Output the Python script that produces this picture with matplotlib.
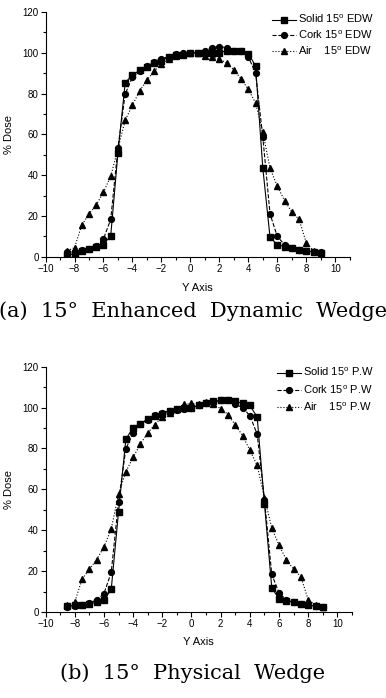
import numpy as np
import matplotlib.pyplot as plt
from matplotlib.ticker import MultipleLocator

# y positions (cm), same grid for every series
y_pos = np.arange(-8.5, 9.01, 0.5)

# (a) 15 deg enhanced dynamic wedge
edw_solid = [1, 1.5, 3, 4, 5, 6, 10.4, 51, 85.4, 89, 91.4, 93, 95, 96, 98, 99, 99, 100,
             100, 100, 100, 100, 101, 101, 101, 99.6, 93.5, 43.5, 9.5, 6, 5, 4.5, 3.5, 3, 2.5, 2]
edw_cork = [2.5, 2.5, 3.5, 4, 5.5, 8.8, 18.4, 53.5, 79.8, 88, 91, 93.5, 95.5, 97, 98, 99.5, 100, 100,
            100, 101, 102.5, 103, 102.5, 101, 101, 98, 90, 58.6, 21, 10, 6, 4.5, 3.5, 3, 2.5, 2.5]
edw_air = [3, 4.5, 15.5, 21, 25.5, 31.7, 39.5, 53, 67, 74.3, 81.3, 86.5, 91, 94.5, 97, 98.5, 100, 100,
           100, 98.5, 98, 96.8, 95, 91.6, 87.2, 82, 75.4, 61, 43.4, 34.6, 27.6, 22, 18.4, 7, 3, 2.5]

# (b) 15 deg physical wedge
pw_solid = [3, 3.5, 3.5, 4, 5, 5.9, 11.2, 48.9, 84.5, 90.2, 92, 94.5, 96, 97, 98.5, 99.5, 100, 100,
            101, 102, 103, 103.5, 103.5, 103, 102, 101, 95.4, 53, 12, 6.5, 5.5, 5, 4, 3.5, 3, 2.5]
pw_cork = [2.5, 3, 3.5, 4.5, 6, 9.1, 19.5, 54, 79.8, 87.5, 92, 94, 96.5, 97.5, 98.5, 99, 99.5, 100,
           101, 102, 102.5, 103.5, 103.5, 101.5, 100, 96, 87, 55, 18.5, 9.5, 6, 5, 4, 3.5, 3, 2.5]
pw_air = [3.5, 5, 16.1, 21, 25.7, 31.9, 40.7, 57.8, 68.6, 75.7, 82.2, 87.6, 91.7, 95.5, 97.5, 99.5, 101.5, 102,
          101.5, 102.5, 101.5, 99.5, 96.6, 91.5, 86.3, 79.2, 71.7, 56, 41.2, 32.7, 25.6, 21, 17.4, 6, 3.5, 2.5]

plt.rcParams['font.family'] = ['Liberation Sans', 'DejaVu Sans']
plt.rcParams['mathtext.fontset'] = 'custom'
plt.rcParams['mathtext.rm'] = 'Liberation Sans'

W, H = 386, 698
fig = plt.figure(figsize=(W / 100, H / 100), dpi=100)


def panel(rect, solid, cork, air, tag, leg_xy, leg_sp, caption, cap_y, xlab_y):
    ax = fig.add_axes(rect)
    kw = dict(color='black', lw=0.8, ms=4.2)
    ax.plot(y_pos, solid, '-', marker='s', label='Solid 15$^{\\mathrm{o}}$ ' + tag, **kw)
    ax.plot(y_pos, cork, '--', marker='o', label='Cork 15$^{\\mathrm{o}}$ ' + tag, **kw)
    ax.plot(y_pos, air, ':', marker='^', label='Air    15$^{\\mathrm{o}}$ ' + tag, **kw)
    ax.set_xlim(-10, 11)
    ax.set_ylim(0, 120)
    ax.xaxis.set_major_locator(MultipleLocator(2))
    ax.xaxis.set_minor_locator(MultipleLocator(1))
    ax.yaxis.set_major_locator(MultipleLocator(20))
    ax.yaxis.set_minor_locator(MultipleLocator(10))
    ax.tick_params(which='both', direction='out', labelsize=7, width=0.8, pad=1.5)
    ax.tick_params(which='major', length=3.5)
    ax.tick_params(which='minor', length=2)
    for s in ['top', 'right']:
        ax.spines[s].set_visible(False)
    ax.spines['left'].set_linewidth(0.8)
    ax.spines['bottom'].set_linewidth(0.8)
    ax.set_ylabel('% Dose', fontsize=8, labelpad=6)
    fig.text(rect[0] + rect[2] / 2, xlab_y, 'Y Axis', fontsize=8, ha='center', va='center')
    ax.legend(loc='upper left', frameon=False, fontsize=8, handlelength=2.2,
              handletextpad=0.15, labelspacing=leg_sp, borderaxespad=0.0, borderpad=0.0,
              bbox_to_anchor=leg_xy, bbox_transform=fig.transFigure)
    fig.text(0.5, cap_y, caption, fontsize=15, ha='center', va='center',
             family=['DejaVu Serif'])
    return ax


panel([0.118, 0.632, 0.788, 0.351], edw_solid, edw_cork, edw_air, 'EDW',
      (272 / W, 1 - 13 / H), 0.3,
      '(a)  15\u00b0  Enhanced  Dynamic  Wedge', 1 - 311 / H, 1 - 288 / H)
panel([0.118, 0.1228, 0.794, 0.352], pw_solid, pw_cork, pw_air, 'P.W',
      (277 / W, 1 - 366 / H), 0.45,
      '(b)  15\u00b0  Physical  Wedge', 1 - 673 / H, 1 - 642 / H)

fig.savefig('out.png', dpi=100)
